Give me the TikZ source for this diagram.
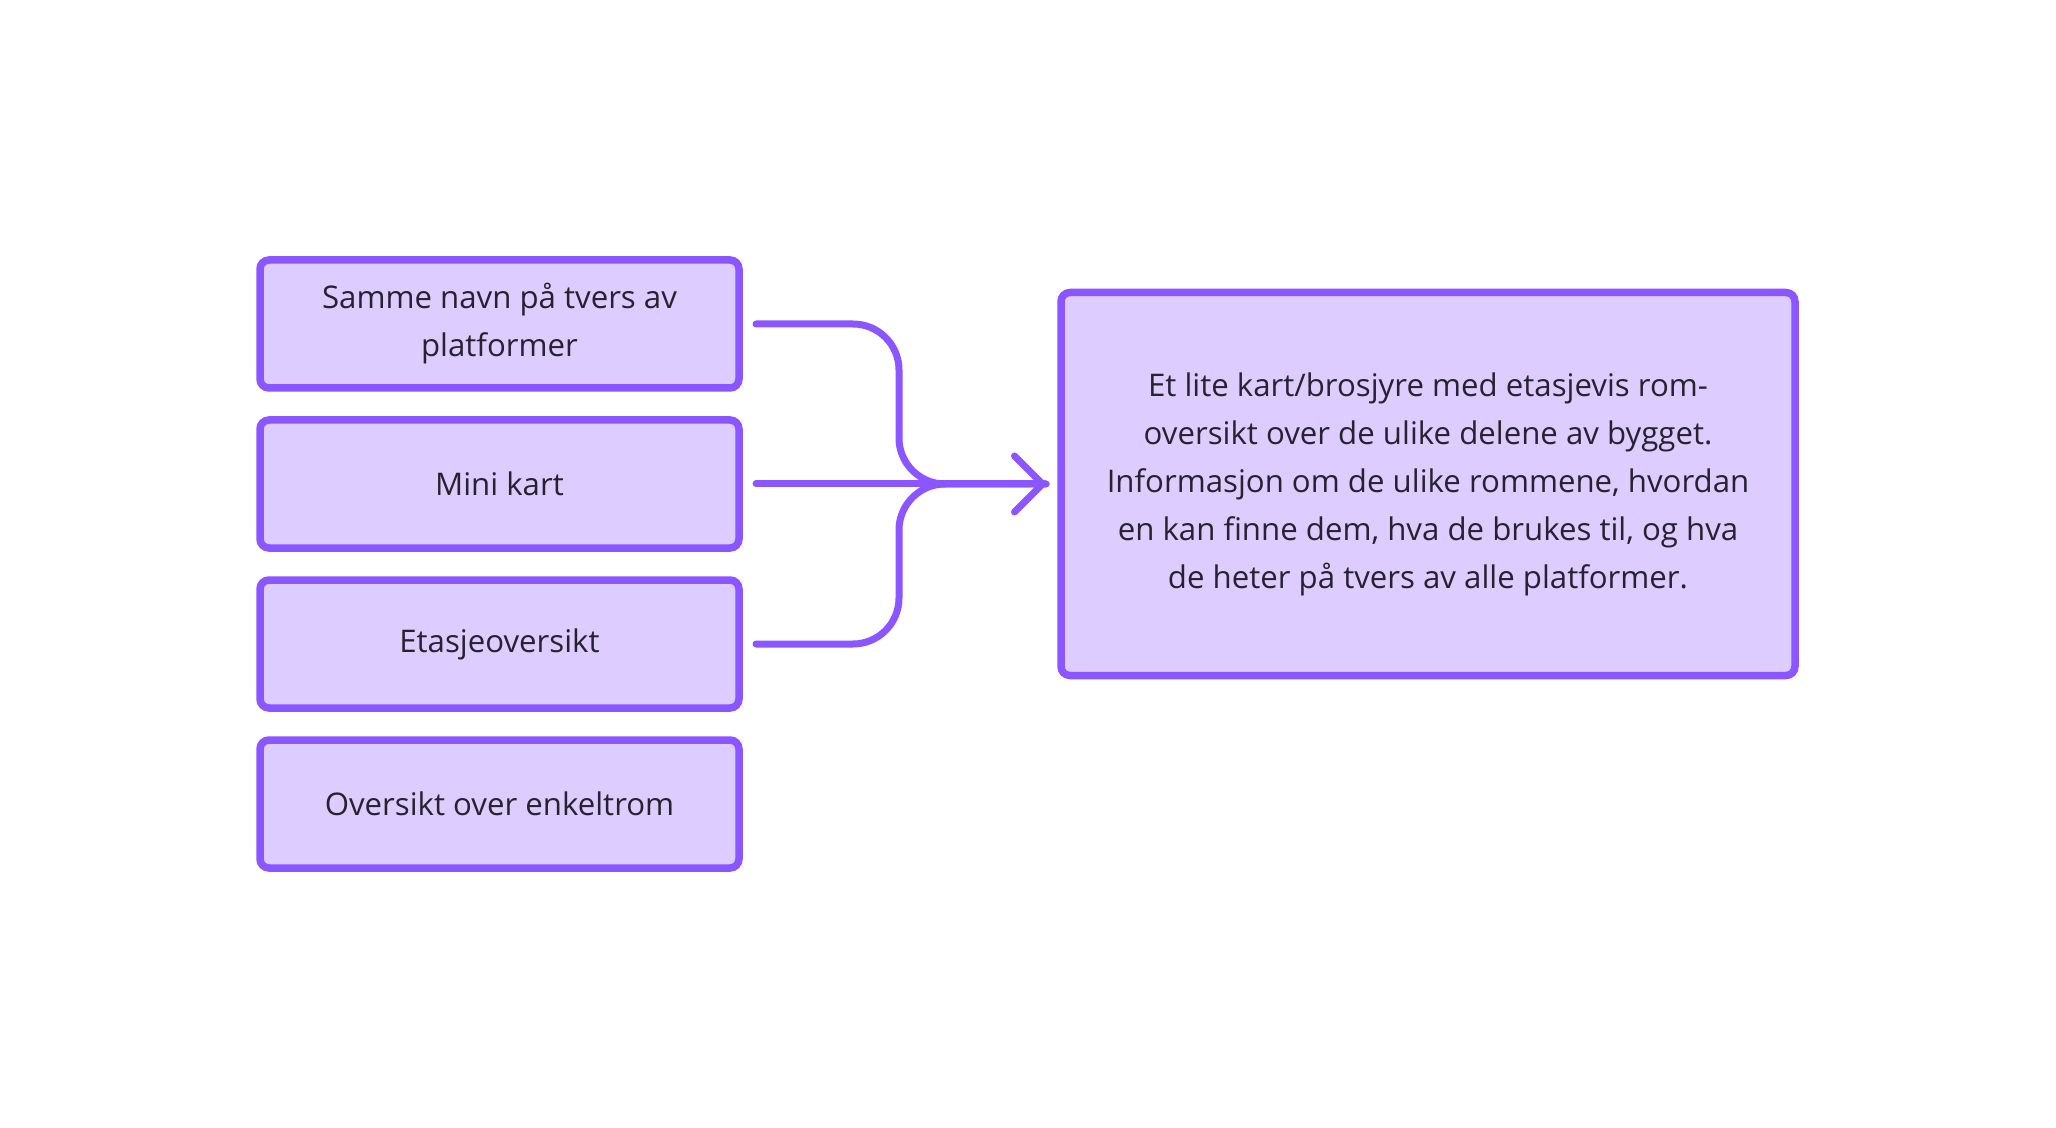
\documentclass[tikz,border=0pt]{standalone}
\usepackage{fontspec}
\setmainfont{Open Sans}
\usetikzlibrary{positioning,arrows.meta}
\definecolor{lilla}{HTML}{8B55FF}
\definecolor{lillalys}{HTML}{DDCCFF}
\definecolor{tekst}{HTML}{27232E}
\begin{document}
\begin{tikzpicture}[x=0.5pt,y=-0.5pt,node distance=16pt]
  \tikzstyle{every node}=[font=\fontsize{15.6}{24}\selectfont,text=tekst,outer sep=0pt]
  \tikzstyle{boks}=[draw=lilla,fill=lillalys,line width=3.75pt,rounded corners=4.5pt,
    minimum width=239.5pt,minimum height=64pt,align=center,inner sep=0pt]
  \tikzstyle{pil}=[draw=lilla,line width=3.5pt,line cap=round,line join=round,rounded corners=23pt]
  \useasboundingbox (0,0) rectangle (2056,1128);
  \node[boks] (samme) at (499.5,324) {Samme navn på tvers av\\platformer};
  \node[boks,below=of samme] (mini) {Mini kart};
  \node[boks,below=of mini] (etasje) {Etasjeoversikt};
  \node[boks,below=of etasje] (enkeltrom) {Oversikt over enkeltrom};
  \node[boks,minimum width=367pt,minimum height=191.5pt] (kart) at (1428,484)
    {Et lite kart/brosjyre med etasjevis rom-\\oversikt over de ulike delene av bygget.\\
     Informasjon om de ulike rommene, hvordan\\en kan finne dem, hva de brukes til, og hva\\
     de heter på tvers av alle platformer.};
  \coordinate[left=7.5pt of kart.west] (tupp);
  \coordinate[right=80pt of mini.east] (fletting);
  % samle de tre linjene i en pil
  \draw[pil] ([xshift=8.5pt]samme.east) -| (fletting) -- (tupp);
  \draw[pil] ([xshift=8.5pt]etasje.east) -| (fletting) -- (tupp);
  \draw[pil,-{Straight Barb[round,length=14pt,width=28pt]}] ([xshift=8.5pt]mini.east) -- (tupp);
\end{tikzpicture}
\end{document}
